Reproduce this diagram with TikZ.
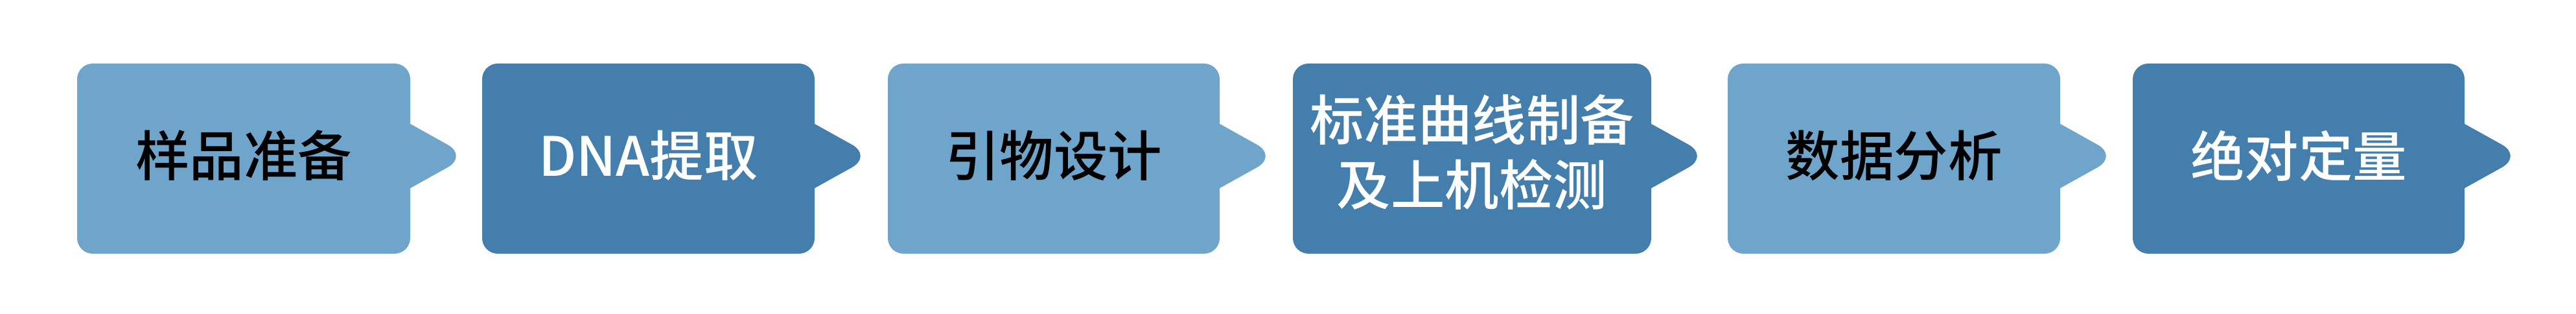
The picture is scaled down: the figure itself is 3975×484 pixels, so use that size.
\documentclass[tikz,border=0pt]{standalone}
\usepackage{fontspec}
\setmainfont{Noto Sans CJK SC}[UprightFont={* Medium}]
\definecolor{lightb}{RGB}{111,165,202}
\definecolor{darkb}{RGB}{67,126,173}
\tikzset{
  box/.style={rectangle, rounded corners=24pt, minimum height=293pt, inner sep=0pt, draw=none},
  lbl/.style={font=\fontsize{83.5}{100}\selectfont, align=center, inner sep=0pt},
}
\newcommand\tabshape[2]{%
  \fill[#2, rounded corners=36pt] ([shift={(-89,-103)}]#1.east) -- ([shift={(89,-4)}]#1.east) -- ([shift={(-89,95)}]#1.east) -- cycle;
}
\begin{document}
\begin{tikzpicture}[x=1pt,y=-1pt]
\useasboundingbox (0,0) rectangle (3975,484);
\node[box, fill=lightb, minimum width=514pt] (b1) at (376,244.5) {};
\node[box, fill=darkb,  minimum width=513pt] (b2) at (1000.5,244.5) {};
\node[box, fill=lightb, minimum width=512pt] (b3) at (1626,244.5) {};
\node[box, fill=darkb,  minimum width=553pt] (b4) at (2271.5,244.5) {};
\node[box, fill=lightb, minimum width=513pt] (b5) at (2922.5,244.5) {};
\node[box, fill=darkb,  minimum width=512pt] (b6) at (3547,244.5) {};
\tabshape{b1}{lightb}
\tabshape{b2}{darkb}
\tabshape{b3}{lightb}
\tabshape{b4}{darkb}
\tabshape{b5}{lightb}
\tabshape{b6}{darkb}
\node[lbl, text=black] (t1) at (376,240) {样品准备};
\node[lbl, text=white] (t2) at (1000.5,240) {DNA提取};
\node[lbl, text=black] (t3) at (1626,240) {引物设计};
\node[lbl, text=white] (t4) at (2271.5,235) {标准曲线制备\\及上机检测};
\node[lbl, text=black] (t5) at (2922.5,240) {数据分析};
\node[lbl, text=white] (t6) at (3547,240) {绝对定量};
\end{tikzpicture}
\end{document}
